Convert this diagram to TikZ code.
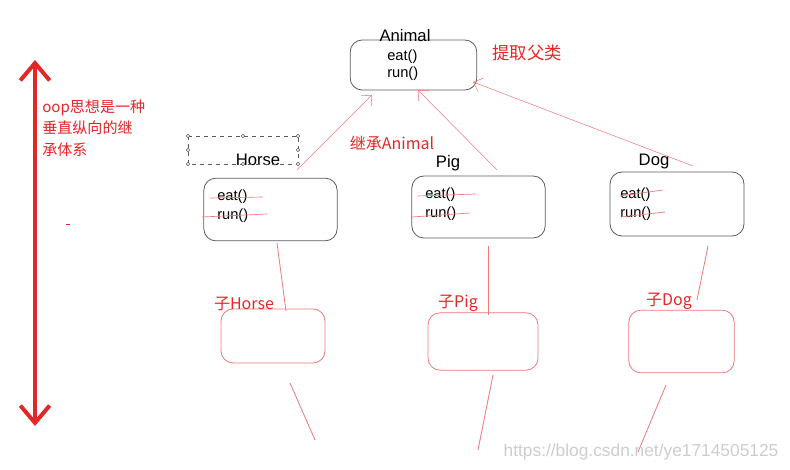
\documentclass[tikz,border=0pt]{standalone}
\usepackage{fontspec}
\setmainfont{Liberation Sans}
\newfontfamily\cjk{Noto Sans CJK SC}
\usetikzlibrary{arrows.meta}
\definecolor{linkred}{RGB}{240,120,120}
\definecolor{textred}{RGB}{228,38,38}
\definecolor{boxgray}{RGB}{90,90,90}
\definecolor{markgray}{RGB}{205,205,205}
\begin{document}
\begin{tikzpicture}[x=0.75pt,y=-0.75pt,>={Straight Barb[length=6pt,width=11pt]}]
    \useasboundingbox (0,0) rectangle (790,470);
    \tikzset{
        cls/.style={draw=boxgray,line width=0.6pt,rounded corners=9pt,inner sep=0pt},
        subcls/.style={draw=linkred,line width=0.6pt,rounded corners=9pt,inner sep=0pt},
        lbl/.style={font=\fontsize{12.5}{14}\selectfont,inner sep=0pt},
        meth/.style={font=\fontsize{11}{13}\selectfont,inner sep=0pt,anchor=west},
        note/.style={text=textred,font=\cjk\fontsize{12}{14}\selectfont,inner sep=0pt},
        inh/.style={->,draw=linkred,line width=0.4pt},
        link/.style={draw=linkred,line width=0.6pt}
    }
    % Vertical inheritance arrow
    \coordinate (top) at (35,60);
    \coordinate (bot) at (35,426);
    \draw[<->,textred,line width=3pt,>={Straight Barb[length=13pt,width=22pt]}] (top) -- (bot);
    \node[note,anchor=north west,align=left,font=\cjk\fontsize{11.3}{15.8}\selectfont] (idea) at (42,100)
        {oop思想是一种\\垂直纵向的继\\承体系};
    \draw[textred,line width=0.5pt] (66,224) -- (70,224);
    % Parent class
    \node[cls,minimum width=95pt,minimum height=37.5pt] (animal) at (413.5,65) {};
    \node[lbl] (animalname) at (405,36) {Animal};
    \node[meth] (aeat) at (387,57) {eat()};
    \node[meth] (arun) at (387,74) {run()};
    \node[note,font=\cjk\fontsize{13}{15}\selectfont] (extract) at (527,53) {提取父类};
    % Child classes
    \foreach \n/\x/\y/\w/\h in {horse/270.5/209.5/100/47, pig/478.5/207/100/46.5, dog/677/204/100.5/48}
        \node[cls,minimum width=\w pt,minimum height=\h pt] (\n) at (\x,\y) {};
    \foreach \n/\t/\x/\y in {horsename/Horse/258/160, pigname/Pig/448/163, dogname/Dog/654/161}
        \node[lbl] (\n) at (\x,\y) {\t};
    \foreach \n/\x/\y in {horse/217/197, pig/425/195, dog/620/195} {
        \node[meth] (\n eat) at (\x,\y) {eat()};
        \node[meth] (\n run) at (\x,\y+19) {run()};
    }
    % Selection frame round Horse
    \draw[boxgray,dashed,line width=0.4pt] (188,136) rectangle (298,164);
    \foreach \x/\y in {188/136, 243/136, 298/136, 188/150, 298/150, 188/164, 243/164, 298/164}
        \draw[boxgray,line width=0.3pt,fill=white] (\x,\y) circle (1.3pt);
    % Crossed out methods
    \foreach \a/\b/\c/\d in {210/198/263/197, 202/217/267/214, 418/196/476/194, 412/217/470/213, 620/196/663/190, 621/217/665/212}
        \draw[linkred,line width=0.5pt] (\a,\b) -- (\c,\d);
    % Inheritance arrows
    \coordinate (hs) at (297,170); \coordinate (ht) at (372,95);
    \coordinate (ps) at (497,170); \coordinate (pt) at (418,90);
    \coordinate (ds) at (693,166); \coordinate (dt) at (473,82);
    \draw[inh] (hs) -- (ht);
    \draw[inh] (ps) -- (pt);
    \draw[inh] (ds) -- (dt);
    \node[note] (inherit) at (392,143) {继承Animal};
    % Sub classes
    \foreach \n/\x/\y/\w/\h in {subhorse/273/336/78/40.5, subpig/483/341.5/82.5/43, subdog/681.5/341.5/79/47}
        \node[subcls,minimum width=\w pt,minimum height=\h pt] (\n) at (\x,\y) {};
    \foreach \n/\t/\x/\y in {subhorsename/子Horse/244/304, subpigname/子Pig/458/303, subdogname/子Dog/669/301}
        \node[note] (\n) at (\x,\y) {\t};
    % Links down
    \foreach \a/\b/\c/\d in {277/243/286/311, 488/246/488/315, 708/246/697/300, 290/383/315/440, 493/375/478/450, 666/385/638/452}
        \draw[link] (\a,\b) -- (\c,\d);
    \node[text=markgray,font=\fontsize{13}{15}\selectfont,inner sep=0pt] (mark) at (641,452) {https://blog.csdn.net/ye1714505125};
\end{tikzpicture}
\end{document}
